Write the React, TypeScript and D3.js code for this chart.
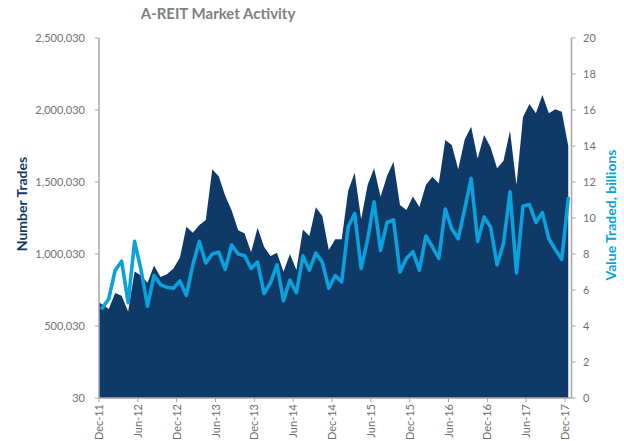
import React from "react";
import * as d3 from "d3";

const W = 624;
const H = 441;

// Monthly categories Dec-11 .. Dec-17
const startMonth = new Date(2011, 11, 1);
const months: Date[] = d3.timeMonth.range(startMonth, new Date(2018, 0, 1));

const tickLabels = ["Dec-11", "Jun-12", "Dec-12", "Jun-13", "Dec-13", "Jun-14", "Dec-14", "Jun-15", "Dec-15", "Jun-16", "Dec-16", "Jun-17", "Dec-17"];

const numberTrades = [
  665000, 618000, 730000, 710000, 600000, 878000, 850000, 800000, 920000, 840000,
  860000, 900000, 975000, 1190000, 1148000, 1201000, 1236000, 1588000, 1540000, 1405000,
  1302000, 1165000, 1142000, 1012000, 1183000, 1051000, 986000, 1009000, 877000, 1000000,
  889000, 1171000, 1125000, 1324000, 1264000, 1028000, 1102000, 1102000, 1440000, 1565000,
  1241000, 1479000, 1595000, 1398000, 1542000, 1641000, 1340000, 1305000, 1400000, 1326000,
  1479000, 1537000, 1491000, 1792000, 1757000, 1588000, 1796000, 1884000, 1664000, 1826000,
  1741000, 1595000, 1648000, 1856000, 1479000, 1949000, 2042000, 1977000, 2104000, 1977000,
  2005000, 1988000, 1750000,
];

const valueTraded = [
  5.0, 5.5, 7.1, 7.6, 5.3, 8.7, 7.1, 5.1, 6.8, 6.3,
  6.15, 6.1, 6.5, 5.7, 7.4, 8.7, 7.5, 8.0, 8.1, 7.15,
  8.5, 8.0, 7.9, 7.2, 7.55, 5.8, 6.4, 7.4, 5.4, 6.55,
  5.85, 7.9, 7.1, 8.05, 7.55, 6.1, 6.8, 6.45, 9.5, 10.25,
  7.2, 8.8, 10.9, 8.2, 9.75, 9.9, 7.0, 7.75, 8.13, 7.1,
  9.0, 8.4, 7.75, 10.5, 9.4, 8.85, 10.5, 12.2, 8.7, 10.05,
  9.5, 7.4, 8.6, 11.45, 6.95, 10.65, 10.75, 9.75, 10.3, 8.85,
  8.25, 7.7, 11.1,
];

const leftTicks = [30, 500030, 1000030, 1500030, 2000030, 2500030];
const rightTicks = [0, 2, 4, 6, 8, 10, 12, 14, 16, 18, 20];

const FONT = "Lato, 'Liberation Sans', sans-serif";
const AREA_COLOR = "#0f3a68";
const LINE_COLOR = "#0aa1dd";
const AXIS_COLOR = "#a6a6a6";
const TEXT_COLOR = "#6f6f6f";

export default function App() {
  const left = 99;
  const right = 571.5;
  const top = 38;
  const bottom = 398;

  const fmt = d3.timeFormat("%b-%y");
  const x = d3.scaleBand<number>().domain(months.map((_, i) => i)).range([left, right]).padding(0);
  const bw = x.bandwidth();
  const cx = (i: number) => (x(i) as number) + bw / 2;
  const yL = d3.scaleLinear().domain([30, 2500030]).range([bottom, top]);
  const yR = d3.scaleLinear().domain([0, 20]).range([bottom, top]);

  const area = d3
    .area<number>()
    .x((_, i) => (i === 0 ? (x(0) as number) : cx(i)))
    .y0(yL(30))
    .y1((d) => yL(d));
  const line = d3
    .line<number>()
    .x((_, i) => cx(i))
    .y((d) => yR(d));

  const labelIdx = months
    .map((m, i) => ({ m, i }))
    .filter(({ m }) => tickLabels.includes(fmt(m)));

  return (
    <svg width={W} height={H} style={{ position: "absolute", left: 0, top: 0, background: "#fff" }} fontFamily={FONT}>
      <text x={218} y={19} textAnchor="middle" fontSize={15} fontWeight={700} fill="#7f7f7f">
        A-REIT Market Activity
      </text>

      <path d={area(numberTrades) || ""} fill={AREA_COLOR} />
      <path d={line(valueTraded) || ""} fill="none" stroke={LINE_COLOR} strokeWidth={3.6} strokeLinejoin="round" strokeLinecap="round" />

      {/* left axis */}
      <line x1={left} x2={left} y1={top} y2={bottom} stroke={AXIS_COLOR} strokeWidth={1.5} />
      {leftTicks.map((t) => (
        <g key={t}>
          <line x1={left - 4} x2={left} y1={yL(t)} y2={yL(t)} stroke={AXIS_COLOR} strokeWidth={1} />
          <text x={85} y={yL(t)} dy="0.35em" textAnchor="end" fontSize={11} fill={TEXT_COLOR}>
            {d3.format(",")(t)}
          </text>
        </g>
      ))}

      {/* right axis */}
      <line x1={right} x2={right} y1={top} y2={bottom} stroke={AXIS_COLOR} strokeWidth={1.5} />
      {rightTicks.map((t) => (
        <g key={t}>
          <line x1={right} x2={right + 4} y1={yR(t)} y2={yR(t)} stroke={AXIS_COLOR} strokeWidth={1} />
          <text x={583} y={yR(t)} dy="0.35em" textAnchor="start" fontSize={11} fill={TEXT_COLOR}>
            {t}
          </text>
        </g>
      ))}

      {/* bottom axis */}
      <line x1={left} x2={right} y1={bottom} y2={bottom} stroke={AXIS_COLOR} strokeWidth={1.5} />
      {labelIdx.map(({ m, i }) => {
        const tx = x(i) as number;
        return (
          <g key={i}>
            <line x1={tx} x2={tx} y1={bottom} y2={bottom + 4} stroke={AXIS_COLOR} strokeWidth={1} />
            <text
              transform={`translate(${tx + 4},${bottom + 6}) rotate(-90)`}
              textAnchor="end"
              fontSize={11}
              fill={TEXT_COLOR}
            >
              {fmt(m)}
            </text>
          </g>
        );
      })}

      <text transform="translate(27,204) rotate(-90)" textAnchor="middle" fontSize={14} fontWeight={700} fill="#0f3a68">
        Number Trades
      </text>
      <text transform="translate(616,215) rotate(-90)" textAnchor="middle" fontSize={14} fontWeight={700} fill={LINE_COLOR}>
        Value Traded, billions
      </text>
    </svg>
  );
}
